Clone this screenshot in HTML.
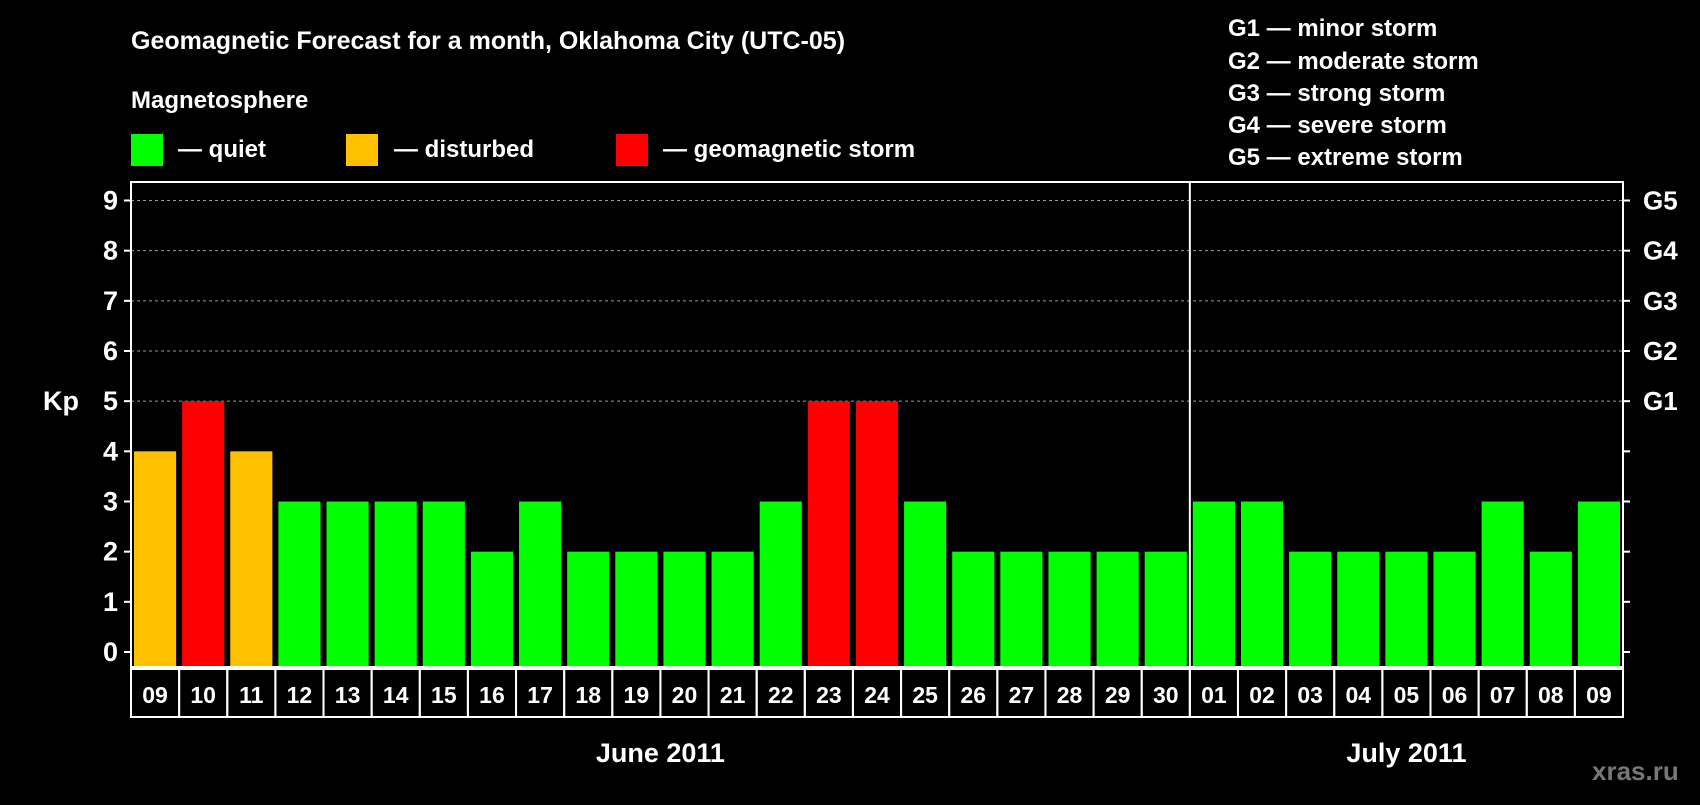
<!DOCTYPE html>
<html><head><meta charset="utf-8"><style>
body{margin:0;background:#000;width:1700px;height:800px;overflow:hidden}
svg text{font-family:"Liberation Sans",Arial,sans-serif;font-weight:bold;fill:#fff}
</style></head><body>
<svg id="c" width="1700" height="800" xmlns="http://www.w3.org/2000/svg">
<rect width="1700" height="800" fill="#000"/>
<text x="131" y="49" font-size="25">Geomagnetic Forecast for a month, Oklahoma City (UTC-05)</text>
<text x="131" y="108" font-size="24">Magnetosphere</text>
<g><rect x="131" y="134" width="32" height="32" fill="#00ff00"/><text x="178" y="157" font-size="24">— quiet</text></g>
<g><rect x="346" y="134" width="32" height="32" fill="#ffc000"/><text x="394" y="157" font-size="24">— disturbed</text></g>
<g><rect x="616" y="134" width="32" height="32" fill="#ff0000"/><text x="663" y="157" font-size="24">— geomagnetic storm</text></g>
<g font-size="24">
<text x="1228" y="36">G1 — minor storm</text>
<text x="1228" y="69">G2 — moderate storm</text>
<text x="1228" y="101">G3 — strong storm</text>
<text x="1228" y="133">G4 — severe storm</text>
<text x="1228" y="165">G5 — extreme storm</text>
</g>
<text x="43" y="410" font-size="27">Kp</text>
<text x="1592" y="780" font-size="26" style="fill:#777">xras.ru</text>
<g id="plot"></g>
</svg>
<script>
const days=["09","10","11","12","13","14","15","16","17","18","19","20","21","22","23","24","25","26","27","28","29","30","01","02","03","04","05","06","07","08","09"];
const kp=[4,5,4,3,3,3,3,2,3,2,2,2,2,3,5,5,3,2,2,2,2,2,3,3,2,2,2,2,3,2,3];
const yTicks=[0,1,2,3,4,5,6,7,8,9];
const gLabels=["G1","G2","G3","G4","G5"];
const months=["June 2011","July 2011"];
const monthStart=[0,22];
const NS="http://www.w3.org/2000/svg";
const g=document.getElementById('plot');
const L=131,R=1623,T=182,B=667,Y0=652,Y9=200.5;
const slot=(R-L)/days.length;
function y(v){return Y0-(Y0-Y9)*v/9;}
function x(i){return L+i*slot;}
function mk(t,a,p){const e=document.createElementNS(NS,t);for(const k in a)e.setAttribute(k,a[k]);(p||g).appendChild(e);return e;}
function color(v){return v>=5?"#ff0000":v>=4?"#ffc000":"#00ff00";}
yTicks.forEach(v=>{
  if(v>=5){const l=mk('line',{x1:L,x2:R,y1:y(v),y2:y(v),stroke:'#999','stroke-dasharray':'3,3','stroke-width':1});
  
  }
  const t=mk('text',{x:118,y:y(v)+9,'text-anchor':'end','font-size':27});t.textContent=v;
  
  
  mk('line',{x1:L-7,x2:L,y1:y(v),y2:y(v),stroke:'#fff','stroke-width':2});
  mk('line',{x1:R,x2:R+7,y1:y(v),y2:y(v),stroke:'#fff','stroke-width':2});
});
gLabels.forEach((s,i)=>{const t=mk('text',{x:1643,y:y(5+i)+9,'font-size':26});t.textContent=s;
  
  });
kp.forEach((v,i)=>{
  const r=mk('rect',{x:x(i)+3,y:y(v),width:slot-6,height:y(0)-y(v)+15,fill:color(v)});
  
  
  mk('rect',{x:x(i),y:B+2,width:slot,height:48,fill:'none',stroke:'#fff','stroke-width':2});
  const t=mk('text',{x:x(i)+slot/2,y:B+36,'text-anchor':'middle','font-size':23});t.textContent=days[i];
  
  
});
mk('rect',{x:L,y:T,width:R-L,height:B-T,fill:'none',stroke:'#fff','stroke-width':2});
mk('line',{x1:x(monthStart[1]),x2:x(monthStart[1]),y1:T,y2:B,stroke:'#fff','stroke-width':2});
months.forEach((m,i)=>{
  const a=monthStart[i],b=i+1<monthStart.length?monthStart[i+1]:days.length;
  const t=mk('text',{x:(x(a)+x(b))/2,y:762,'text-anchor':'middle','font-size':27});t.textContent=m;
  
  
});
</script>
</body></html>
